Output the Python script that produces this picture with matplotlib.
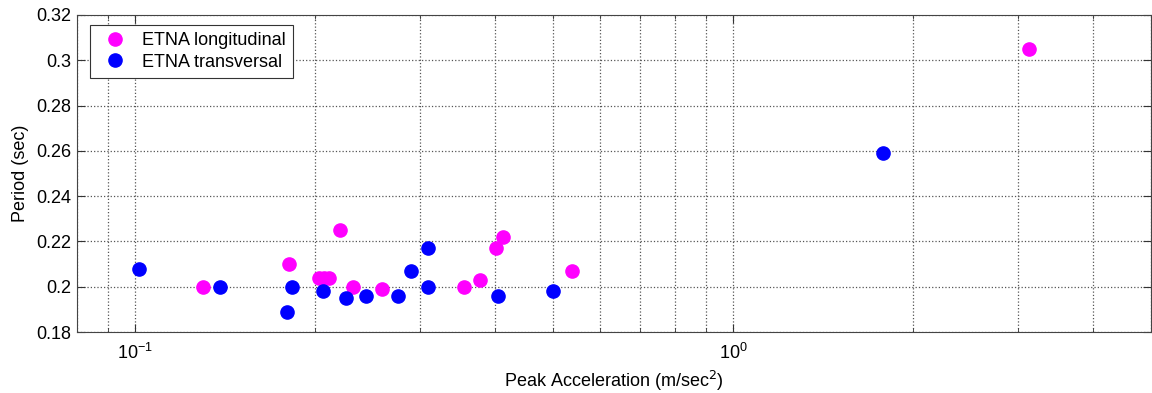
import matplotlib
matplotlib.use("Agg")
import matplotlib.pyplot as plt
import numpy as np
from matplotlib.ticker import LogLocator, FixedLocator, FuncFormatter

plt.rcParams["font.family"] = ["Liberation Sans", "DejaVu Sans"]

# ETNA longitudinal
long_acc = [0.13, 0.181, 0.203, 0.207, 0.211, 0.22, 0.232, 0.259, 0.355, 0.378,
            0.402, 0.413, 0.539, 3.13]
long_per = [0.200, 0.210, 0.204, 0.204, 0.204, 0.225, 0.200, 0.199, 0.200, 0.203,
            0.217, 0.222, 0.207, 0.305]

# ETNA transversal
trans_acc = [0.1015, 0.139, 0.1795, 0.183, 0.206, 0.225, 0.243, 0.275, 0.289,
             0.309, 0.309, 0.404, 0.501, 1.78]
trans_per = [0.208, 0.200, 0.189, 0.200, 0.198, 0.195, 0.196, 0.196, 0.207,
             0.217, 0.200, 0.196, 0.198, 0.259]

y_ticks = [0.18, 0.2, 0.22, 0.24, 0.26, 0.28, 0.3, 0.32]

fig = plt.figure(figsize=(11.52, 3.93), dpi=100)
ax = fig.add_axes([0.0668, 0.155, 0.9323, 0.807])

ax.plot(long_acc, long_per, "o", color="#ff00ff", markersize=9.5,
        label="ETNA longitudinal")
ax.plot(trans_acc, trans_per, "o", color="#0000ff", markersize=9.5,
        label="ETNA transversal")

ax.set_xscale("log")
ax.set_xlim(0.08, 5)
ax.set_ylim(0.18, 0.32)
ax.xaxis.set_major_locator(LogLocator(base=10))
ax.xaxis.set_minor_locator(LogLocator(base=10, subs=np.arange(2, 10)))
ax.yaxis.set_major_locator(FixedLocator(y_ticks))
ax.yaxis.set_major_formatter(FuncFormatter(lambda v, p: f"{v:g}"))

ax.grid(True, which="both", axis="x", linestyle=":", color="#555555", linewidth=0.9)
ax.grid(True, which="major", axis="y", linestyle=":", color="#555555", linewidth=0.9)
ax.tick_params(which="both", direction="in", top=True, right=True,
               labelsize=13, color="#333333")
ax.tick_params(which="major", length=6)
ax.tick_params(which="minor", length=3)
ax.tick_params(axis="x", which="both", pad=8)
ax.tick_params(axis="y", which="both", pad=4)
for s in ax.spines.values():
    s.set_color("#444444")

ax.set_xlabel("Peak Acceleration (m/sec$^2$)", fontsize=13, labelpad=4)
ax.set_ylabel("Period (sec)", fontsize=13, labelpad=5)

leg = ax.legend(loc="upper left", bbox_to_anchor=(0.012, 0.968), borderaxespad=0,
                fontsize=13, fancybox=False, edgecolor="#333333", framealpha=1,
                handlelength=2.0, handletextpad=0.5, borderpad=0.4,
                labelspacing=0.25)
leg.get_frame().set_linewidth(0.8)

fig.savefig("out.png", dpi=100)
